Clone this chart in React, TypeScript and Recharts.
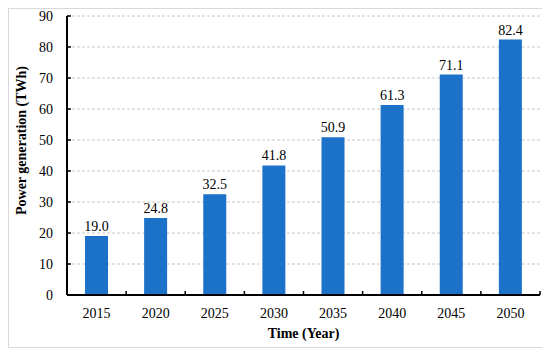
import { Bar, BarChart, CartesianGrid, Label, LabelList, XAxis, YAxis } from "recharts";

const years = ["2015", "2020", "2025", "2030", "2035", "2040", "2045", "2050"];
const generation = [19.0, 24.8, 32.5, 41.8, 50.9, 61.3, 71.1, 82.4];
const yTicks = [0, 10, 20, 30, 40, 50, 60, 70, 80, 90];

const data = years.map((year, i) => ({ year, value: generation[i] }));

const FONT = "'Liberation Serif', 'Times New Roman', serif";
const BAR_COLOR = "#1c72c8";
const TICK_MARGIN = 13;

// category label in the middle of the band, small tick mark at the band's right edge
function YearTick(props: any) {
  const { x, y, payload } = props;
  const axisY = y - TICK_MARGIN;
  const edge = x + (payload.offset ?? 0);
  return (
    <g>
      <line x1={edge} x2={edge} y1={axisY} y2={axisY - 4} stroke="#000" strokeWidth={1.5} />
      <text x={x} y={y} dy="0.71em" textAnchor="middle" fontSize={14} fontFamily={FONT} fill="#000">
        {payload.value}
      </text>
    </g>
  );
}

export default function App() {
  return (
    <div style={{ width: 534, height: 338, border: "1px solid #d9d9d9", fontFamily: FONT }}>
      <BarChart width={534} height={338} data={data} margin={{ top: 7, right: 3, left: 0, bottom: 0 }}>
        <CartesianGrid vertical={false} stroke="#c8c8c8" strokeDasharray="3 2" />
        <XAxis
          dataKey="year"
          height={52}
          tickLine={false}
          tickSize={0}
          tickMargin={TICK_MARGIN}
          axisLine={{ stroke: "#000", strokeWidth: 2 }}
          tick={<YearTick />}
          interval={0}
        >
          <Label
            value="Time (Year)"
            position="center"
            dy={12}
            style={{ fontFamily: FONT, fontSize: 14, fontWeight: "bold", fill: "#000" }}
          />
        </XAxis>
        <YAxis
          width={58}
          domain={[0, 90]}
          ticks={yTicks}
          interval={0}
          tickSize={-4}
          tickMargin={18}
          axisLine={{ stroke: "#000", strokeWidth: 2 }}
          tickLine={{ stroke: "#000", strokeWidth: 1.5 }}
          tick={{ fill: "#000", fontSize: 14, fontFamily: FONT }}
        >
          <Label
            value="Power generation (TWh)"
            angle={-90}
            position="center"
            dx={-17}
            dy={-15}
            style={{ fontFamily: FONT, fontSize: 14, fontWeight: "bold", fill: "#000", textAnchor: "middle" }}
          />
        </YAxis>
        <Bar dataKey="value" fill={BAR_COLOR} barSize={23} isAnimationActive={false}>
          <LabelList
            dataKey="value"
            position="top"
            formatter={(v: any) => Number(v).toFixed(1)}
            style={{ fontFamily: FONT, fontSize: 14, fill: "#000" }}
          />
        </Bar>
      </BarChart>
    </div>
  );
}
